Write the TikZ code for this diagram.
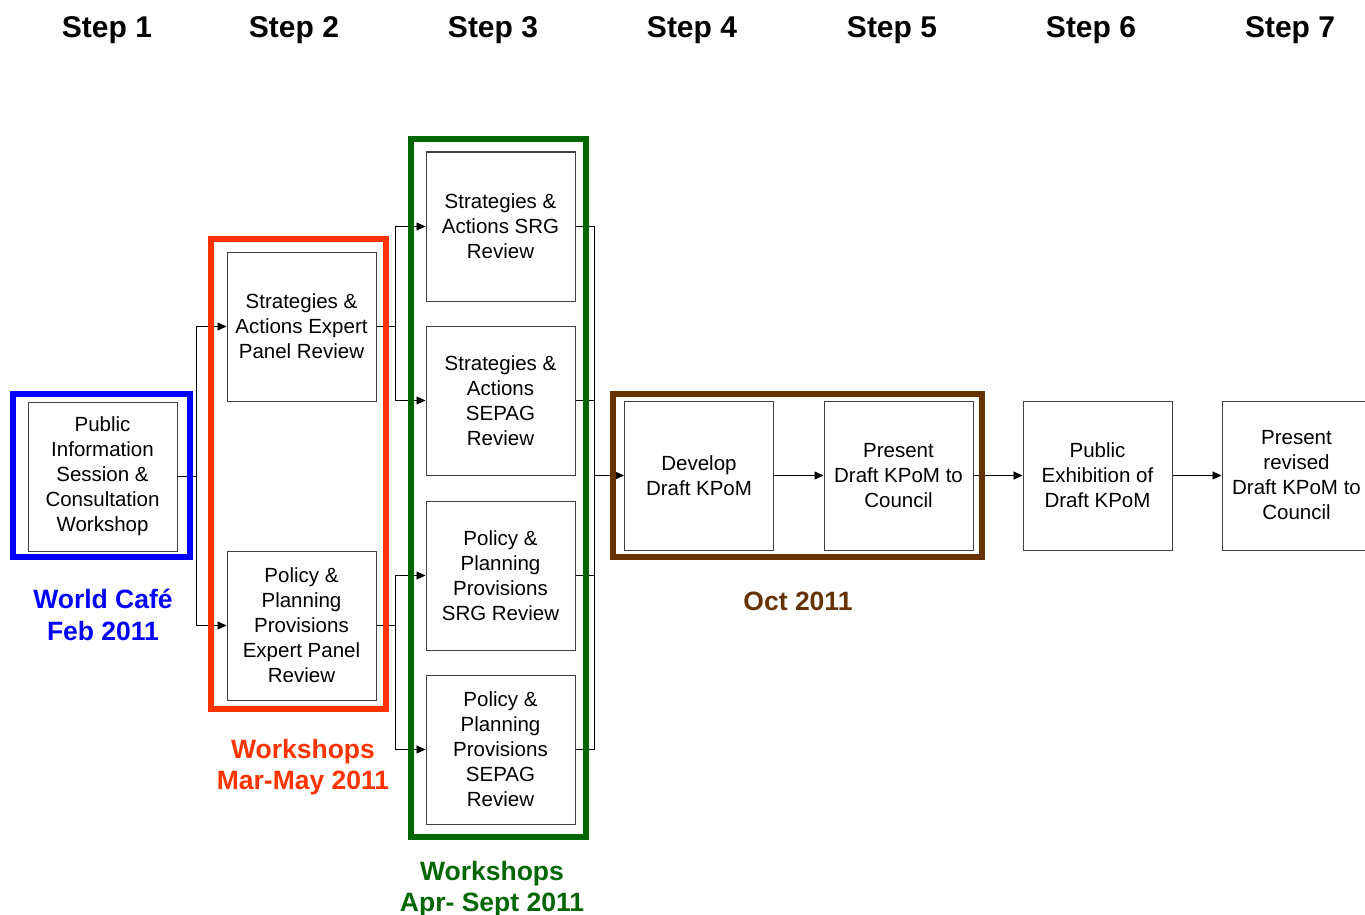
\documentclass[tikz,border=0pt]{standalone}
\usepackage{fontspec}
\setmainfont{Liberation Sans}
\usetikzlibrary{arrows.meta}
\definecolor{cblue}{HTML}{0000FF}
\definecolor{cred}{HTML}{FF3300}
\definecolor{cgreen}{HTML}{006600}
\definecolor{cbrown}{HTML}{663300}
\definecolor{boxgray}{HTML}{404040}
\tikzset{
  stepbox/.style={draw=boxgray, line width=1pt, fill=white, minimum width=149pt, minimum height=149pt, inner sep=2pt, align=center, font=\fontsize{20.5}{25}\selectfont},
  steplabel/.style={font=\fontsize{30}{36}\selectfont\bfseries},
  datelabel/.style={font=\fontsize{26.5}{31.5}\selectfont\bfseries, align=center},
  conn/.style={draw=black, line width=0.9pt},
  arr/.style={conn, -{Triangle[length=9pt,width=8pt]}},
  frame/.style={line width=6pt},
}
\begin{document}
\begin{tikzpicture}[x=1pt,y=-1pt]
\useasboundingbox (0,0) rectangle (1365,915);
% step headings
\node[steplabel] (h1) at (107,30) {Step 1};
\node[steplabel] (h2) at (294,30) {Step 2};
\node[steplabel] (h3) at (493,30) {Step 3};
\node[steplabel] (h4) at (692,30) {Step 4};
\node[steplabel] (h5) at (892,30) {Step 5};
\node[steplabel] (h6) at (1091,30) {Step 6};
\node[steplabel] (h7) at (1290,30) {Step 7};
% boxes
\node[stepbox] (s1) at (102.5,476.5) {Public\\Information\\Session \&\\Consultation\\Workshop};
\node[stepbox] (a) at (301.5,326.5) {Strategies \&\\Actions Expert\\Panel Review};
\node[stepbox] (b) at (301.5,625.5) {Policy \&\\Planning\\Provisions\\Expert Panel\\Review};
\node[stepbox] (c1) at (500.5,226.5) {Strategies \&\\Actions SRG\\Review};
\node[stepbox] (c2) at (500.5,400.5) {Strategies \&\\Actions\\SEPAG\\Review};
\node[stepbox] (c3) at (500.5,575.5) {Policy \&\\Planning\\Provisions\\SRG Review};
\node[stepbox] (c4) at (500.5,749.5) {Policy \&\\Planning\\Provisions\\SEPAG\\Review};
\node[stepbox] (d) at (699,475.5) {Develop\\Draft KPoM};
\node[stepbox] (e) at (898.5,475.5) {Present\\Draft KPoM to\\Council};
\node[stepbox] (f) at (1097.5,475.5) {Public\\Exhibition of\\Draft KPoM};
\node[stepbox] (g) at (1296.5,475.5) {Present\\revised\\Draft KPoM to\\Council};
% junctions
\coordinate (j1) at (196,476.5);
\coordinate (j2) at (395,326.5);
\coordinate (j3) at (395,625.5);
\coordinate (j4) at (594,475.5);
% connectors
\draw[conn] (s1.east) -- (j1);
\draw[arr] (j1) |- (a.west);
\draw[arr] (j1) |- (b.west);
\draw[conn] (a.east) -- (j2);
\draw[arr] (j2) |- (c1.west);
\draw[arr] (j2) |- (c2.west);
\draw[conn] (b.east) -- (j3);
\draw[arr] (j3) |- (c3.west);
\draw[arr] (j3) |- (c4.west);
\draw[conn] (c1.east) -| (j4);
\draw[conn] (c2.east) -| (j4);
\draw[conn] (c3.east) -| (j4);
\draw[conn] (c4.east) -| (j4);
\draw[arr] (j4) -- (d.west);
\draw[arr] (d.east) -- (e.west);
\draw[arr] (e.east) -- (f.west);
\draw[arr] (f.east) -- (g.west);
% frames
\draw[frame, cblue] (13,394) rectangle (190,557);
\draw[frame, cred] (211,239) rectangle (386,709);
\draw[frame, cgreen] (411,139) rectangle (586,837);
\draw[frame, cbrown] (613,394) rectangle (982,557);
% date labels
\node[datelabel, text=cblue] (l1) at (103,615) {World Café\\Feb 2011};
\node[datelabel, text=cred] (l2) at (303,767) {Workshops\\Mar-May 2011};
\node[datelabel, text=cgreen] (l3) at (492,889) {Workshops\\Apr- Sept 2011};
\node[datelabel, text=cbrown] (l4) at (798,601) {Oct 2011};
\end{tikzpicture}
\end{document}
